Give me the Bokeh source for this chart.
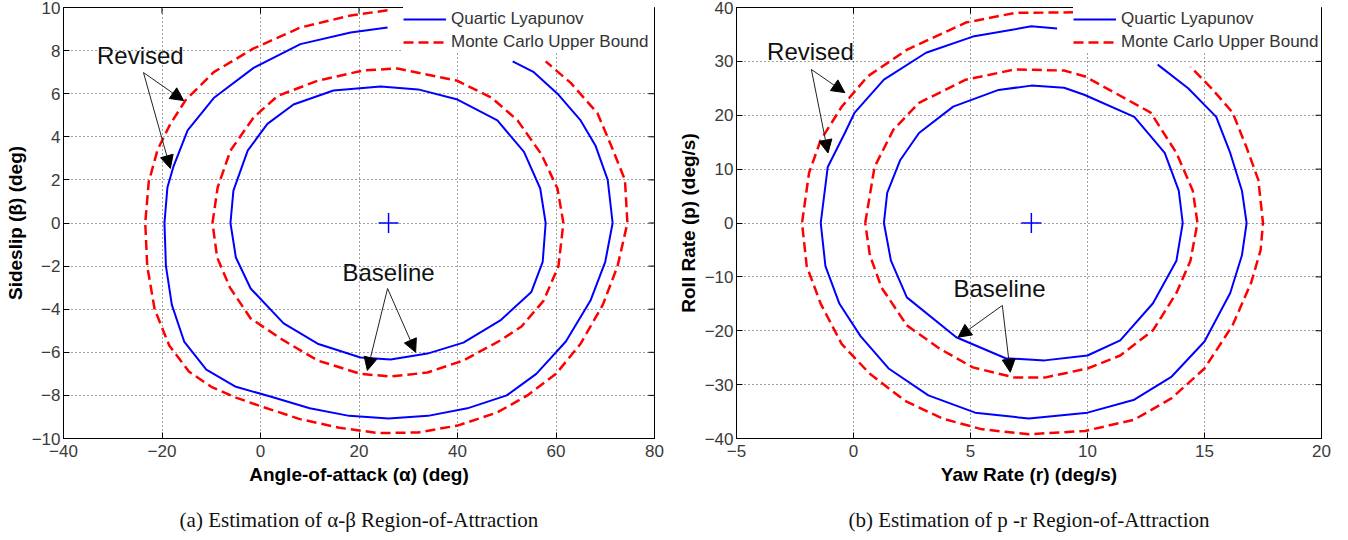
import math
from bokeh.plotting import figure
from bokeh.models import (Legend, LegendItem, Arrow, NormalHead, Label, FixedTicker,
                          LinearAxis)
from bokeh.layouts import row
from bokeh.embed import file_html
from bokeh.resources import INLINE

# ---------------- data: panel (a) alpha-beta ----------------
a_xticks = [-40, -20, 0, 20, 40, 60, 80]
a_yticks = [-10, -8, -6, -4, -2, 0, 2, 4, 6, 8, 10]

a_outer_mc_x = [25.8, 18.3, 8.1, -1.4, -9.5, -15.2, -18.3, -20.9, -22.7, -23.4, -23.0, -21.5, -18.5, -14.5, -10.0, -5.0, 0.0, 8.0, 16.0, 24.0, 32.0, 40.0, 48.0, 54.2, 60.0, 65.0, 69.5, 72.5, 74.5, 74.0, 71.0, 68.4, 63.0, 57.9]
a_outer_mc_y = [9.87, 9.63, 9.07, 8.1, 7.0, 5.7, 4.6, 3.4, 1.9, 0.0, -2.0, -4.0, -5.7, -6.9, -7.6, -8.1, -8.5, -9.1, -9.5, -9.75, -9.72, -9.4, -8.8, -8.0, -7.0, -5.6, -3.8, -2.0, 0.0, 2.0, 3.7, 5.1, 6.5, 7.5]

a_outer_ly_x = [25.8, 18.3, 8.1, -1.4, -9.5, -14.8, -17.7, -18.9, -19.5, -19.2, -18.0, -15.5, -11.0, -5.0, 2.0, 10.0, 18.0, 26.0, 34.0, 42.0, 50.0, 56.0, 62.0, 67.0, 70.0, 71.5, 70.5, 68.0, 65.0, 60.3, 55.5, 51.2]
a_outer_ly_y = [9.07, 8.84, 8.3, 7.2, 5.8, 4.3, 2.6, 1.65, 0.0, -2.0, -3.8, -5.5, -6.8, -7.6, -8.05, -8.6, -8.95, -9.07, -8.95, -8.6, -8.0, -7.0, -5.5, -3.6, -1.8, 0.0, 2.0, 3.6, 4.76, 6.0, 7.0, 7.5]

a_inner_mc_x = [-9.75, -8.7, -6.1, -1.4, 3.5, 11.6, 20.9, 27.8, 40.0, 47.0, 52.2, 57.0, 60.3, 61.5, 60.5, 57.5, 53.0, 48.7, 41.2, 33.9, 26.4, 20.3, 11.6, 4.7, -2.0, -6.2, -8.8, -9.75]
a_inner_mc_y = [0.0, 1.65, 3.36, 4.9, 5.9, 6.6, 7.08, 7.17, 6.6, 5.8, 4.76, 3.2, 1.6, 0.0, -2.0, -3.6, -4.8, -5.45, -6.38, -6.94, -7.12, -7.0, -6.38, -5.45, -4.43, -3.0, -1.6, 0.0]

a_inner_ly_x = [-6.1, -5.5, -2.6, 1.4, 6.7, 14.8, 24.4, 32.0, 40.0, 48.1, 53.5, 56.8, 57.9, 57.3, 55.0, 48.7, 41.2, 33.9, 26.4, 20.3, 11.6, 4.7, -2.0, -5.0, -6.1]
a_inner_ly_y = [0.0, 1.5, 3.36, 4.6, 5.5, 6.15, 6.33, 6.2, 5.73, 4.76, 3.3, 1.6, 0.0, -1.8, -3.2, -4.52, -5.55, -6.06, -6.33, -6.24, -5.6, -4.66, -3.04, -1.6, 0.0]

a_center = (26.0, 0.0)
a_revised_text = (-24.4, 7.77)
a_revised_arrow = [(-23.76, 6.98, -15.6, 5.68), (-23.76, 6.98, -18.3, 2.53)]
a_baseline_text = (26.0, -2.3)
a_baseline_arrow = [(25.8, -3.04, 21.7, -6.84), (25.8, -3.04, 31.5, -6.0)]

# ---------------- data: panel (b) p-r ----------------
b_xticks = [-5, 0, 5, 10, 15, 20]
b_yticks = [-40, -30, -20, -10, 0, 10, 20, 30, 40]

b_outer_mc_x = [9.4, 6.9, 4.8, 2.3, 0.6, -0.5, -1.4, -1.9, -2.2, -2.0, -1.4, -0.5, 0.7, 2.2, 3.8, 5.5, 7.5, 9.9, 12.0, 13.6, 15.0, 16.2, 17.0, 17.4, 17.5, 17.3, 16.8, 16.2, 15.3, 14.4]
b_outer_mc_y = [39.1, 39.0, 37.2, 32.2, 27.2, 21.6, 15.4, 9.3, 0.0, -8.0, -15.0, -22.5, -28.0, -33.0, -36.3, -38.3, -39.2, -38.6, -36.5, -32.5, -27.0, -19.0, -11.0, -5.0, 0.0, 8.0, 14.0, 20.5, 25.0, 29.0]

b_outer_ly_x = [8.7, 7.6, 5.1, 3.1, 1.3, 0.05, -0.37, -1.1, -1.4, -1.2, -0.6, 0.3, 1.5, 3.2, 5.2, 7.5, 10.0, 12.0, 13.6, 15.0, 16.1, 16.6, 16.8, 16.6, 16.1, 15.5, 14.3, 13.0]
b_outer_ly_y = [36.1, 36.5, 34.6, 31.6, 26.6, 20.5, 16.7, 10.4, 0.0, -8.0, -15.0, -21.0, -27.0, -32.0, -35.2, -36.3, -35.2, -32.8, -28.5, -22.0, -13.0, -6.0, 0.0, 6.0, 13.0, 19.7, 25.0, 29.4]

b_inner_mc_x = [0.5, 0.9, 1.7, 2.8, 4.8, 6.9, 9.0, 9.9, 12.7, 13.8, 14.5, 14.7, 14.4, 13.8, 12.8, 11.4, 10.0, 8.17, 6.9, 5.1, 3.67, 2.28, 1.2, 0.7, 0.5]
b_inner_mc_y = [0.0, 10.4, 17.3, 22.3, 26.6, 28.5, 28.3, 27.2, 20.5, 13.0, 6.0, 0.0, -7.0, -13.0, -19.9, -24.6, -27.0, -28.7, -28.7, -26.8, -23.3, -19.0, -12.0, -6.0, 0.0]

b_inner_ly_x = [1.3, 1.44, 2.0, 2.8, 4.26, 6.2, 7.6, 9.0, 9.86, 12.0, 13.3, 13.9, 14.07, 13.8, 12.8, 11.4, 10.0, 8.17, 6.5, 4.39, 2.28, 1.6, 1.3]
b_inner_ly_y = [0.0, 5.6, 11.7, 16.7, 21.6, 24.7, 25.5, 25.1, 23.8, 19.7, 13.0, 6.0, 0.0, -7.0, -14.9, -21.8, -24.6, -25.5, -25.1, -21.2, -13.8, -7.0, 0.0]

b_center = (7.6, 0.0)
b_revised_text = (-1.84, 31.8)
b_revised_arrow = [(-1.8, 28.5, -0.37, 24.2), (-1.8, 28.5, -1.09, 13.0)]
b_baseline_text = (6.24, -12.1)
b_baseline_arrow = [(6.36, -15.3, 4.47, -21.2), (6.36, -15.3, 6.7, -27.7)]

legend_labels = ["Quartic Lyapunov", "Monte Carlo Upper Bound"]

BLUE = "#0000FF"
RED = "#FF0000"
SANS = "Liberation Sans"


def make_panel(width, border_left, border_right, xr, yr, xticks, yticks,
               curves_ly, curves_mc, center, rev_txt, rev_arr, base_txt, base_arr,
               xlabel, ylabel, caption, leg_pad, leg_label_w):
    p = figure(width=width, height=540, x_range=xr, y_range=yr,
               output_backend="svg", toolbar_location=None,
               min_border_left=border_left, min_border_right=border_right,
               min_border_top=7, min_border_bottom=102)
    p.background_fill_color = "white"
    p.border_fill_color = "white"
    p.outline_line_color = "black"
    p.outline_line_width = 1

    for ax, ticks in ((p.xaxis, xticks), (p.yaxis, yticks)):
        ax.ticker = FixedTicker(ticks=ticks)
        ax.major_tick_in = 6
        ax.major_tick_out = 0
        ax.minor_tick_line_color = None
        ax.axis_line_color = "black"
        ax.major_tick_line_color = "black"
        ax.major_label_text_font = SANS
        ax.major_label_text_font_size = "17px"
        ax.major_label_text_color = "#3a3a3a"
        ax.axis_label_text_font = SANS
        ax.axis_label_text_font_size = "19px"
        ax.axis_label_text_font_style = "bold"
        ax.axis_label_text_color = "black"
    p.xaxis.major_label_standoff = 6
    p.xaxis.axis_label_standoff = 4
    p.yaxis.major_label_standoff = 3
    p.yaxis.axis_label_standoff = 3
    p.xaxis.axis_label = xlabel
    p.yaxis.axis_label = ylabel

    # caption: an extra tick-less axis below the x axis, carrying only its label
    cap = LinearAxis(ticker=FixedTicker(ticks=[]), axis_line_color=None,
                     major_tick_line_color=None, minor_tick_line_color=None,
                     major_tick_in=0, major_tick_out=0, major_label_standoff=0,
                     axis_label=caption, axis_label_standoff=20,
                     axis_label_text_font="Liberation Serif",
                     axis_label_text_font_size="21px",
                     axis_label_text_font_style="normal",
                     axis_label_text_color="#111111")
    p.add_layout(cap, "below")

    for g in (p.xgrid, p.ygrid):
        g.grid_line_color = "black"
        g.grid_line_dash = "1 3"
        g.grid_line_alpha = 0.75
        g.grid_line_width = 1

    # inward tick marks on the right and top edges of the box (clipped to frame)
    p.scatter([xr[1]] * len(yticks), yticks, marker="dash", size=12,
              line_color="black", line_width=1)
    p.scatter(xticks, [yr[1]] * len(xticks), marker="dash", size=12,
              angle=math.pi / 2, line_color="black", line_width=1)

    ly_r = None
    mc_r = None
    for (cx, cy) in curves_mc:
        mc_r = p.line(cx, cy, line_color=RED, line_width=2.5, line_dash="10 5",
                      line_join="round")
    for (cx, cy) in curves_ly:
        ly_r = p.line(cx, cy, line_color=BLUE, line_width=2, line_join="round")

    p.scatter([center[0]], [center[1]], marker="cross", size=20,
              line_color=BLUE, line_width=1.5)

    for (x0, y0, x1, y1) in rev_arr + base_arr:
        p.add_layout(Arrow(end=NormalHead(size=13, fill_color="black", line_color="black"),
                           x_start=x0, y_start=y0, x_end=x1, y_end=y1,
                           line_color="#222222", line_width=1))
    for (tx, ty), txt in ((rev_txt, "Revised"), (base_txt, "Baseline")):
        p.add_layout(Label(x=tx, y=ty, text=txt, text_font=SANS, text_font_size="24px",
                           text_color="#111111", text_align="center",
                           text_baseline="middle"))

    legend = Legend(items=[LegendItem(label=legend_labels[0], renderers=[ly_r]),
                           LegendItem(label=legend_labels[1], renderers=[mc_r])],
                    location="top_right", margin=0, padding=leg_pad, spacing=0,
                    glyph_width=43, glyph_height=20, label_height=23,
                    label_width=leg_label_w,
                    label_standoff=5, border_line_color=None,
                    background_fill_color="white", background_fill_alpha=1.0,
                    label_text_font=SANS, label_text_font_size="17px",
                    label_text_color="#333333")
    p.add_layout(legend)
    return p


pa = make_panel(674, 63, 20, (-40, 80), (-10, 10), a_xticks, a_yticks,
                [(a_outer_ly_x, a_outer_ly_y), (a_inner_ly_x, a_inner_ly_y)],
                [(a_outer_mc_x, a_outer_mc_y), (a_inner_mc_x, a_inner_mc_y)],
                a_center, a_revised_text, a_revised_arrow, a_baseline_text, a_baseline_arrow,
                "Angle-of-attack (\u03b1) (deg)", "Sideslip (\u03b2) (deg)",
                "(a) Estimation of \u03b1-\u03b2 Region-of-Attraction", 6, 203)

pb = make_panel(674, 53, 27, (-5, 20), (-40, 40), b_xticks, b_yticks,
                [(b_outer_ly_x, b_outer_ly_y), (b_inner_ly_x, b_inner_ly_y)],
                [(b_outer_mc_x, b_outer_mc_y), (b_inner_mc_x, b_inner_mc_y)],
                b_center, b_revised_text, b_revised_arrow, b_baseline_text, b_baseline_arrow,
                "Yaw Rate (r) (deg/s)", "Roll Rate (p) (deg/s)",
                "(b) Estimation of p -r Region-of-Attraction", 9, 200)

layout = row(pa, pb)
open("out.html", "w").write(file_html(layout, INLINE))
